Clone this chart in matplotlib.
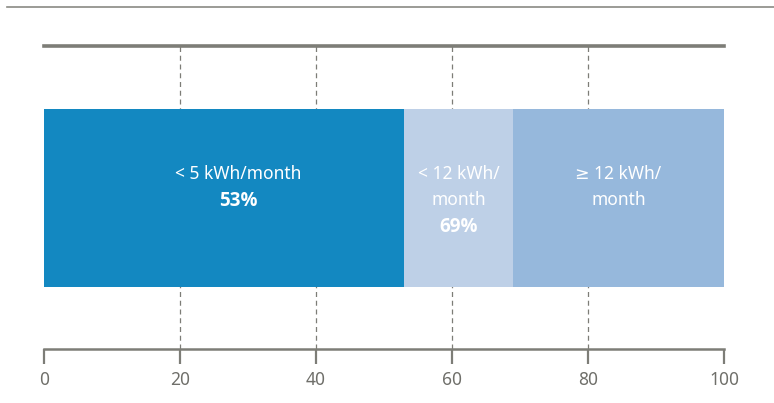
import matplotlib.pyplot as plt
from matplotlib.lines import Line2D

# data
segments = [53, 16, 31]
seg_colors = ["#1388c1", "#bed0e7", "#96b8dc"]
seg_labels = [["< 5 kWh/month"], ["< 12 kWh/", "month"], ["\u2265 12 kWh/", "month"]]
seg_values = ["53%", "69%", ""]
label_x = [28.6, 61, 84.5]
ticks = [0, 20, 40, 60, 80, 100]

gray = "#7d7d77"
plt.rcParams['font.family'] = ['Noto Sans', 'DejaVu Sans']

fig = plt.figure(figsize=(7.74, 4.03), dpi=100)
ax = fig.add_axes([44/774, 54/403, 680/774, 303/403])

# bar
left = 0
for w, c in zip(segments, seg_colors):
    ax.barh(0.4985, w, left=left, height=0.587, color=c, zorder=3)
    left += w

# labels inside bar
y0 = 0.561
step = 0.085
for x, lines, val in zip(label_x, seg_labels, seg_values):
    y = y0
    for ln in lines:
        ax.text(x, y, ln, ha='center', va='baseline', color='white', fontsize=12.5, zorder=4)
        y -= step
    if val:
        ax.text(x, y - 0.005, val, ha='center', va='baseline', color='white', fontsize=13.5,
                family=['Open Sans', 'Liberation Sans', 'DejaVu Sans'],
                fontweight='bold', zorder=4)

# dashed grid
for t in ticks[1:-1]:
    ax.axvline(t, color=gray, lw=0.9, dashes=(4, 3), zorder=1)

ax.set_xlim(0, 100)
ax.set_ylim(0, 1)
ax.set_xticks(ticks)
ax.set_yticks([])
ax.tick_params(axis='x', length=11, width=1.6, color=gray, labelcolor="#6f6f6a",
               labelsize=12.5, pad=4.5)
for s in ['left', 'right']:
    ax.spines[s].set_visible(False)
ax.spines['bottom'].set_color(gray)
ax.spines['bottom'].set_linewidth(1.8)
ax.spines['top'].set_color(gray)
ax.spines['top'].set_linewidth(2.6)

# thin rule at the very top
fig.add_artist(Line2D([7/774, 1], [1 - 7/403, 1 - 7/403], color="#8a8a84", lw=1.2))

fig.savefig("out.png", dpi=100)
